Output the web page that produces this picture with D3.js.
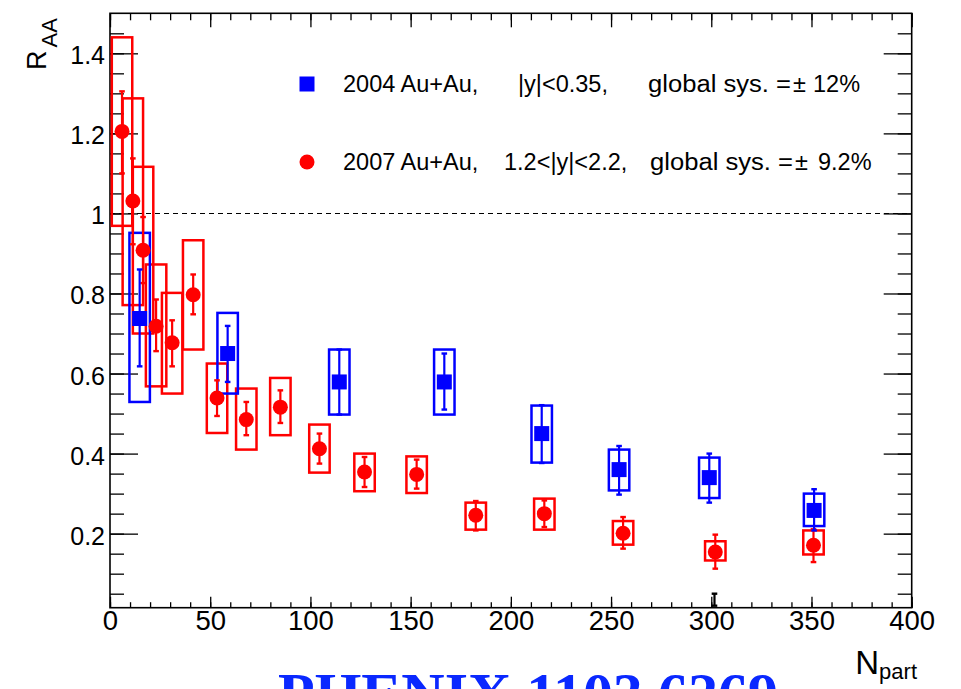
<!DOCTYPE html>
<html><head><meta charset="utf-8">
<script src="https://cdn.jsdelivr.net/npm/d3@7"></script>
<style>body{margin:0;background:#fff}svg{display:block}</style>
</head><body>
<script>
// ---- data ----
const npartRed   = [6, 11.4, 16.5, 23, 31, 41.5, 53.4, 68, 85, 104.5, 127, 153, 182.5, 216.7, 256, 302, 351];
const raaRed     = [1.205, 1.031, 0.908, 0.718, 0.677, 0.797, 0.539, 0.485, 0.516, 0.412, 0.354, 0.348, 0.246, 0.250, 0.201, 0.154, 0.171];
const statLoRed  = [1.10, 0.923, 0.826, 0.656, 0.618, 0.748, 0.494, 0.446, 0.4765, 0.375, 0.3165, 0.3125, 0.208, 0.2165, 0.1625, 0.1125, 0.129];
const statHiRed  = [1.305, 1.1375, 0.991, 0.785, 0.733, 0.8475, 0.583, 0.529, 0.558, 0.45, 0.3915, 0.385, 0.2815, 0.283, 0.2415, 0.1975, 0.211];
const sysLoRed   = [0.969, 0.771, 0.70, 0.568, 0.55, 0.66, 0.4515, 0.41, 0.446, 0.3525, 0.306, 0.3015, 0.21, 0.21, 0.1725, 0.133, 0.148];
const sysHiRed   = [1.44, 1.2875, 1.1165, 0.8725, 0.8015, 0.933, 0.625, 0.5625, 0.589, 0.4725, 0.40, 0.393, 0.2775, 0.2875, 0.2315, 0.181, 0.208];

const npartBlue  = [14.8, 58.7, 114.4, 166.8, 215.4, 254, 299, 351.3];
const raaBlue    = [0.7375, 0.65, 0.579, 0.579, 0.45, 0.36, 0.34, 0.258];
const statLoBlue = [0.618, 0.579, 0.4975, 0.51, 0.3765, 0.2975, 0.2775, 0.208];
const statHiBlue = [0.86, 0.719, 0.66, 0.65, 0.521, 0.419, 0.40, 0.311];
const sysLoBlue  = [0.529, 0.55, 0.4975, 0.4975, 0.3775, 0.308, 0.289, 0.219];
const sysHiBlue  = [0.9515, 0.7515, 0.66, 0.66, 0.52, 0.41, 0.39, 0.30];

const blackMark  = {n: 301.6, lo: 0.02, hi: 0.05};

const xMajorTicks = [0, 50, 100, 150, 200, 250, 300, 350, 400];
const yMajorTicks = [0.2, 0.4, 0.6, 0.8, 1.0, 1.2, 1.4];
const legendRows = [
  {series: "blue", parts: ["2004 Au+Au,", "|y|<0.35,", "global sys. =", "\u00b1", "12%"]},
  {series: "red",  parts: ["2007 Au+Au,", "1.2<|y|<2.2,", "global sys. =", "\u00b1", "9.2%"]}
];
const bottomNote = "PHENIX 1103.6269";

// ---- drawing ----
const SANS = '"Liberation Sans", Arial, Helvetica, sans-serif';
const W = 961, H = 689;
const L = 110, R = 911.7, T = 13.3, B = 607.7;
const svg = d3.select("body").append("svg").attr("width", W).attr("height", H)
  .style("font-family", SANS);
svg.append("rect").attr("width", W).attr("height", H).attr("fill", "#fff");

const x = d3.scaleLinear().domain([0, 400]).range([L, R]);
const y = d3.scaleLinear().domain([0.015, 1.5]).range([B, T]);

function styleAxis(g) {
  g.select(".domain").remove();
  g.selectAll(".tick line").attr("stroke", "#000").attr("stroke-width", 1.3);
}

const xMinor = d3.range(0, 401, 10);
const yMinor = d3.range(1, 30).map(d => +(d * 0.05).toFixed(2));

svg.append("g").attr("transform", `translate(0,${B})`)
  .call(d3.axisBottom(x).tickValues(xMinor).tickSize(-5.5).tickFormat("")).call(styleAxis);
svg.append("g").attr("transform", `translate(0,${B})`)
  .call(d3.axisBottom(x).tickValues(xMajorTicks).tickSize(-11).tickPadding(3).tickFormat(d3.format("d")))
  .call(styleAxis)
  .call(g => g.selectAll("text").style("font-family", SANS).style("font-size", "27.5px").attr("fill", "#000"));
svg.append("g").attr("transform", `translate(0,${T})`)
  .call(d3.axisTop(x).tickValues(xMinor).tickSize(-7).tickFormat("")).call(styleAxis);
svg.append("g").attr("transform", `translate(0,${T})`)
  .call(d3.axisTop(x).tickValues(xMajorTicks).tickSize(-14).tickFormat("")).call(styleAxis);

svg.append("g").attr("transform", `translate(${L},0)`)
  .call(d3.axisLeft(y).tickValues(yMinor).tickSize(-14).tickFormat("")).call(styleAxis);
svg.append("g").attr("transform", `translate(${L},0)`)
  .call(d3.axisLeft(y).tickValues(yMajorTicks).tickSize(-28).tickPadding(5).tickFormat(d => d3.format("")(+d.toFixed(1))))
  .call(styleAxis)
  .call(g => g.selectAll("text").style("font-family", SANS).style("font-size", "25px").attr("fill", "#000").attr("dy", "0.42em"));
svg.append("g").attr("transform", `translate(${R},0)`)
  .call(d3.axisRight(y).tickValues(yMinor).tickSize(-14).tickFormat("")).call(styleAxis);
svg.append("g").attr("transform", `translate(${R},0)`)
  .call(d3.axisRight(y).tickValues(yMajorTicks).tickSize(-28).tickFormat("")).call(styleAxis);

// frame
svg.append("rect").attr("x", L).attr("y", T).attr("width", R - L).attr("height", B - T)
  .attr("fill", "none").attr("stroke", "#000").attr("stroke-width", 1.6);

// dashed line at RAA = 1
svg.append("line").attr("x1", L).attr("x2", R).attr("y1", y(1)).attr("y2", y(1))
  .attr("stroke", "#000").attr("stroke-width", 1.1).attr("stroke-dasharray", "5,4");

const halfW = 5.1;
function series(n, v, sl, sh, stl, sth) {
  return n.map((d, i) => ({n: d, v: v[i], sl: sl[i], sh: sh[i], stl: stl[i], sth: sth[i]}));
}
const red = series(npartRed, raaRed, sysLoRed, sysHiRed, statLoRed, statHiRed);
const blue = series(npartBlue, raaBlue, sysLoBlue, sysHiBlue, statLoBlue, statHiBlue);

function drawBoxes(data, color) {
  svg.append("g").selectAll("rect").data(data).join("rect")
    .attr("x", d => x(d.n - halfW)).attr("width", d => x(d.n + halfW) - x(d.n - halfW))
    .attr("y", d => y(d.sh)).attr("height", d => y(d.sl) - y(d.sh))
    .attr("fill", "none").attr("stroke", color).attr("stroke-width", 2.5);
}
function drawStat(data, color) {
  const g = svg.append("g");
  g.selectAll("line.bar").data(data).join("line").attr("class", "bar")
    .attr("x1", d => x(d.n)).attr("x2", d => x(d.n)).attr("y1", d => y(d.stl)).attr("y2", d => y(d.sth))
    .attr("stroke", color).attr("stroke-width", 2.2);
  ["stl", "sth"].forEach(k => {
    g.selectAll("line." + k).data(data).join("line").attr("class", k)
      .attr("x1", d => x(d.n) - 2.8).attr("x2", d => x(d.n) + 2.8)
      .attr("y1", d => y(d[k])).attr("y2", d => y(d[k]))
      .attr("stroke", color).attr("stroke-width", 2.4);
  });
}
drawBoxes(red, "#ff0000");
drawBoxes(blue, "#0000ff");
drawStat(red, "#ff0000");
svg.append("g").selectAll("circle").data(red).join("circle")
  .attr("cx", d => x(d.n)).attr("cy", d => y(d.v)).attr("r", 7.5).attr("fill", "#ff0000");
drawStat(blue, "#0000ff");
svg.append("g").selectAll("rect").data(blue).join("rect")
  .attr("x", d => x(d.n) - 7.5).attr("y", d => y(d.v) - 7.5).attr("width", 15).attr("height", 15)
  .attr("fill", "#0000ff");

// small black mark near the x axis
drawStat([{n: blackMark.n, stl: blackMark.lo, sth: blackMark.hi}], "#000");

// legend
const partX = [[343, 518, 648, 793, 813], [343, 504, 650, 795, 818]];
const partLen = [[null, null, 143, null, null], [null, null, 143, null, null]];
const rowY = [92, 170];
legendRows.forEach((row, r) => {
  const my = rowY[r] - 8;
  if (row.series === "blue") {
    svg.append("rect").attr("x", 307 - 7.5).attr("y", my - 7.5).attr("width", 15).attr("height", 15).attr("fill", "#0000ff");
  } else {
    svg.append("circle").attr("cx", 307).attr("cy", my).attr("r", 7.5).attr("fill", "#ff0000");
  }
  const t = svg.append("text").attr("y", rowY[r]).style("font-size", "23.5px").attr("fill", "#000");
  row.parts.forEach((p, i) => {
    const s = t.append("tspan").attr("x", partX[r][i]).text(p);
    if (partLen[r][i]) s.attr("textLength", partLen[r][i]).attr("lengthAdjust", "spacingAndGlyphs");
  });
});

// y title R_AA
const yt = svg.append("text").attr("transform", "translate(46,70) rotate(-90)").attr("fill", "#000");
yt.append("tspan").style("font-size", "27px").text("R");
yt.append("tspan").style("font-size", "22px").attr("dy", 10.5).attr("dx", 3).text("AA");

// x title N_part
const xt = svg.append("text").attr("x", 917).attr("y", 673.5).attr("text-anchor", "end").attr("fill", "#000");
xt.append("tspan").style("font-size", "33px").text("N");
xt.append("tspan").style("font-size", "22px").attr("dy", 5).text("part");

// bottom note (cut by the page edge, as in the reference)
svg.append("text").attr("x", 278).attr("y", 714)
  .style("font-family", '"Liberation Serif", "Times New Roman", "DejaVu Serif", serif')
  .style("font-weight", "bold").style("font-size", "60px")
  .attr("fill", "#0a28ff").text(bottomNote);
</script>
</body></html>
